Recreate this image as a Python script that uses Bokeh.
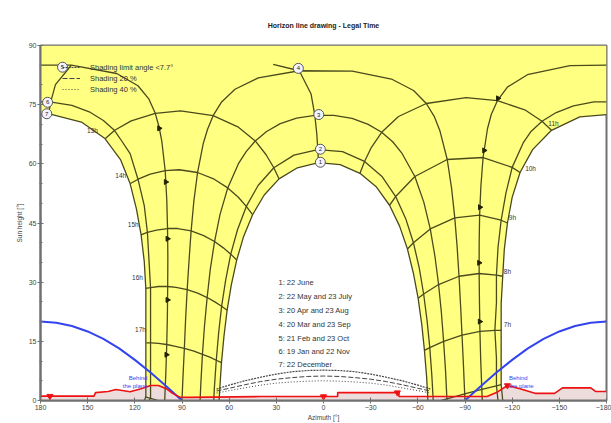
from bokeh.plotting import figure
from bokeh.models import Range1d, FixedTicker, Label, Legend, LegendItem
from bokeh.embed import file_html
from bokeh.resources import INLINE

nan = float("nan")

# ---------------- data (degrees: azimuth, sun height) ----------------
AZ_MAX = 180
H_MAX = 90
TITLE = "Horizon line drawing - Legal Time"
DATE_LABELS = ["1: 22 June", "2: 22 May and 23 July", "3: 20 Apr and 23 Aug",
               "4: 20 Mar and 23 Sep", "5: 21 Feb and 23 Oct", "6: 19 Jan and 22 Nov",
               "7: 22 December"]

# sun paths (one per date)
C1A = [-66.4, -65.6, -64.2, -62.5, -60.2, -57.2, -53.4, -48.4, -42, -33.7, -23.2, -10.6, 3.2, 16.6, 28.3, 37.7, 45.1, 50.8, 55.2, 58.6, 61.3, 63.3, 64.9, 66, 66.4]
C1H = [0, 5.9, 12.7, 19.3, 25.9, 32.2, 38.4, 44.2, 49.5, 54.1, 57.6, 59.8, 60.3, 59, 56.2, 52.1, 47.1, 41.6, 35.6, 29.4, 22.9, 16.3, 9.6, 2.8, 0]
C2A = [-69.8, -68.9, -67.6, -65.9, -63.7, -60.9, -57.2, -52.3, -45.9, -37.4, -26.1, -12.1, 3.6, 18.8, 31.6, 41.6, 49.1, 54.7, 59, 62.2, 64.8, 66.7, 68.2, 69.4, 69.8]
C2H = [0, 6.4, 13.4, 20.2, 27, 33.6, 40, 46.1, 51.7, 56.7, 60.6, 63.1, 63.6, 62.2, 59, 54.5, 49.2, 43.3, 37.1, 30.6, 23.9, 17.1, 10.2, 3.3, 0]
C3A = [-78.5, -78.5, -77.6, -76.4, -75, -73.2, -70.9, -67.9, -63.8, -58.1, -49.7, -44, -37, -28.4, -18.2, -6.6, 5.5, 17.1, 27.5, 36.2, 43.4, 49.2, 53.9, 60.9, 65.8, 69.3, 72, 74, 75.7, 77, 78, 78.5]
C3H = [0, 0.4, 7.7, 15, 22.2, 29.4, 36.5, 43.5, 50.3, 56.8, 62.8, 65.6, 68, 70, 71.5, 72.3, 72.3, 71.6, 70.2, 68.2, 65.8, 63.1, 60.2, 53.9, 47.2, 40.3, 33.3, 26.1, 18.9, 11.7, 4.4, 0]
C4A = [-90, -89.8, -89, -88.1, -87.2, -86.2, -85, -83.5, -81.5, -78.7, -74.1, -70.6, -65.4, -57.3, -43.2, -18.3, 15.4, 41.5, 56.3, 64.8, 70.2, 73.8, 76.5, 80.1, 82.5, 84.2, 85.5, 86.7, 87.7, 88.5, 89.4, 90]
C4H = [0, 1.7, 9.1, 16.6, 24, 31.5, 38.9, 46.3, 53.7, 61.1, 68.3, 71.9, 75.3, 78.6, 81.5, 83.5, 83.6, 81.8, 78.9, 75.7, 72.2, 68.7, 65.1, 57.8, 50.4, 43, 35.6, 28.1, 20.7, 13.2, 5.8, 0]
C5A = [-101, -100.7, -100, -99.5, -99.2, -99, -99, -99.3, -100.1, -101.5, -104.3, -106.7, -110.6, -117.1, -129.7, -156.8, -180, nan, 180, 160.4, 131.5, 118, 111, 107, 104.5, 102.8, 100.7, 99.7, 99.2, 99, 99.1, 99.3, 99.7, 100.3, 101]
C5H = [0, 2.8, 10.2, 17.5, 24.9, 32.2, 39.6, 47, 54.3, 61.6, 68.9, 72.5, 76, 79.5, 82.6, 84.9, 85, nan, 85, 85, 82.9, 79.8, 76.4, 72.8, 69.2, 65.6, 58.3, 51, 43.6, 36.3, 28.9, 21.5, 14.2, 6.8, 0]
C6A = [-111, -110, -110, -109, -110, -110, -111, -113, -116, -120, -127, -132, -139, -148, -159, -172, -180, nan, 180, 174, 160, 149, 140, 133, 128, 123, 118, 114, 112, 111, 110, 110, 110, 110, 110, 111]
C6H = [0, 3.7, 10.8, 17.8, 24.8, 31.8, 38.8, 45.7, 52.5, 59.1, 65.3, 68.2, 70.8, 73, 74.7, 75.7, 75.7, nan, 75.7, 75.7, 74.8, 73.2, 71, 68.5, 65.6, 62.6, 56.1, 49.4, 42.6, 35.6, 28.6, 21.6, 14.6, 7.6, 0.6, 0]
C7A = [-114, -113, -113, -113, -113, -114, -115, -117, -120, -125, -133, -145, -163, -180, nan, 180, 175, 154, 139, 129, 123, 119, 116, 114, 113, 113, 113, 113, 113, 114]
C7H = [0, 4, 10.9, 17.8, 24.6, 31.5, 38.3, 45, 51.5, 57.8, 63.6, 68.5, 71.9, 72.5, nan, 72.5, 72.7, 70.6, 66.4, 61, 55, 48.6, 42, 35.2, 28.4, 21.5, 14.6, 7.8, 0.9, 0]

# hour lines (legal time), from June to December
L6A = [-74.9, -78.5, -89.8, -100.7, -110, -113]
L6H = [0, 0.4, 1.7, 2.8, 3.7, 4]
L7A = [-64.2, -67.6, -76.4, -88.1, -99.5, -109, -113]
L7H = [12.7, 13.4, 15, 16.6, 17.5, 17.8, 17.8]
L8A = [-60.2, -63.7, -73.2, -86.2, -99, -110, -114]
L8H = [25.9, 27, 29.4, 31.5, 32.2, 31.8, 31.5]
L9A = [-53.4, -57.2, -67.9, -83.5, -99.3, -113, -117]
L9H = [38.4, 40, 43.5, 46.3, 47, 45.7, 45]
L10A = [-42, -45.9, -58.1, -78.7, -101.5, -120, -125]
L10H = [49.5, 51.7, 56.8, 61.1, 61.6, 59.1, 57.8]
L11A = [-23.2, -26.1, -30.5, -37, -47.7, -65.4, -90.7, -110.6, -128, -139, -145]
L11H = [57.6, 60.6, 64.2, 68, 72, 75.3, 76.8, 76, 73.7, 70.8, 68.5]
L12A = [3.2, 3.6, 4.3, 5.5, 7.9, 15.4, 32, nan, 160.4, 170.5, 173.5, 174.8]
L12H = [60.3, 63.6, 67.7, 72.3, 77.7, 83.6, 85.2, nan, 85, 80.1, 75.7, 72.7]
L13A = [28.3, 31.6, 36.5, 43.4, 54.1, 70.2, 90.9, 107, 122.3, 132.8, 138.7]
L13H = [56.2, 59, 62.3, 65.8, 69.3, 72.2, 73.4, 72.8, 70.9, 68.5, 66.4]
L14A = [45.1, 49.1, 54.3, 60.9, 69.5, 80.1, 91.8, 100.7, 110.2, 117.9, 122.8]
L14H = [47.1, 49.2, 51.6, 53.9, 56.1, 57.8, 58.5, 58.3, 57.4, 56.1, 55]
L15A = [55.2, 59, 63.7, 69.3, 76.2, 84.2, 92.7, 99.2, 106.2, 112.1, 116.1]
L15H = [35.6, 37.1, 38.7, 40.3, 41.8, 43, 43.6, 43.6, 43.2, 42.6, 42]
L16A = [61.3, 64.8, 69.1, 74, 80, 86.7, 93.7, 99.1, 104.9, 109.9, 113.3]
L16H = [22.9, 23.9, 25, 26.1, 27.2, 28.1, 28.7, 28.9, 28.9, 28.6, 28.4]
L17A = [64.9, 68.2, 72.3, 77, 82.4, 88.5, 94.9, 99.7, 105, 109.5, 112.7]
L17H = [9.6, 10.2, 11, 11.7, 12.5, 13.2, 13.8, 14.2, 14.5, 14.6, 14.6]
L18A = [105.4, 106.1, 110.5, 113.5]
L18H = [0, 0.1, 0.6, 0.9]

# curve number markers
CIRC_TXT = ["1", "2", "3", "4", "5", "6", "7"]
CIRC_AZ = [2, 2, 3, 16, 166, 175.5, 176]
CIRC_H = [60.4, 63.7, 72.5, 84.2, 84.5, 75.6, 72.7]

# direction arrows on path 5
MK_AZ = [104.5, 100.3, 99.2, 99.2, 99.9, -111, -102.2, -99.5, -99, -99.4]
MK_H = [69, 55.4, 41, 25.5, 11.6, 76.6, 63.4, 49, 34.9, 20]

# horizon line
HZ_AZ = [180, 146, 145, 137, 132, 123, 116, 110, 105, 100, 96, 91, 85, 40, 0, -9, -9, -48, -48, -90, -104, -110, -117, -125, -135, -147, -152, -170, -173, -180]
HZ_H = [1.1, 1.1, 2.0, 2.3, 2.8, 2.2, 3.0, 3.8, 3.8, 3.0, 1.8, 0.8, 0.8, 1.0, 1.0, 1.0, 2.0, 2.0, 1.0, 1.0, 1.0, 2.0, 3.8, 3.0, 1.8, 1.8, 3.2, 3.2, 2.3, 2.3]
HZM_AZ = [174, 0, -47, -117]
HZM_H = [1.1, 1.0, 2.0, 3.8]

# behind the plane
BL_AZ_W = [180, 170, 160, 150, 140, 130, 120, 110, 100, 90]
BL_AZ_E = [-180, -170, -160, -150, -140, -130, -120, -110, -100, -90]
BL_H = [20.0, 19.7, 18.9, 17.5, 15.6, 13.2, 10.3, 7.1, 3.6, 0.0]

# iso-shading lines
DM_AZ = [68, 60, 50, 40, 30, 20, 10, 0, -10, -20, -30, -40, -50, -60, -68]
DM1 = [2.9, 3.9, 5.0, 5.9, 6.7, 7.3, 7.6, 7.7, 7.6, 7.3, 6.7, 5.9, 5.0, 3.9, 2.9]
DM2 = [2.4, 3.1, 4.0, 4.8, 5.4, 5.8, 6.1, 6.2, 6.1, 5.8, 5.4, 4.8, 4.0, 3.1, 2.4]
DM3 = [1.9, 2.5, 3.2, 3.9, 4.4, 4.7, 4.9, 5.0, 4.9, 4.7, 4.4, 3.9, 3.2, 2.5, 1.9]
DM_LABELS = ["Shading limit angle <7.7°", "Shading 20 %", "Shading 40 %"]

X_TICKS = [180, 150, 120, 90, 60, 30, 0, -30, -60, -90, -120, -150, -180]
Y_TICKS = [0, 15, 30, 45, 60, 75, 90]

# ---------------- drawing ----------------
FONT = "Liberation Sans"
LINE = "#4a4a1c"

p = figure(width=611, height=423, x_range=Range1d(AZ_MAX, -AZ_MAX), y_range=Range1d(0, H_MAX),
           output_backend="svg", toolbar_location=None,
           min_border_left=40, min_border_right=5, min_border_top=45, min_border_bottom=22)
p.background_fill_color = "white"
p.border_fill_color = "white"

# sun domain (between the December and June paths)
k7 = [k for k, v in enumerate(C7A) if v != v][0]
poly_x = C7A[k7 + 1:] + C1A[::-1] + C7A[:k7] + [-AZ_MAX, AZ_MAX]
poly_y = C7H[k7 + 1:] + C1H[::-1] + C7H[:k7] + [H_MAX, H_MAX]
p.patch(poly_x, poly_y, fill_color="#ffff82", line_color=None)

# under-horizon area
p.varea(x=HZ_AZ, y1=[0] * len(HZ_AZ), y2=HZ_H, fill_color="#ecdcdc")

for a, h in [(C1A, C1H), (C2A, C2H), (C3A, C3H), (C4A, C4H), (C5A, C5H), (C6A, C6H), (C7A, C7H)]:
    p.line(a, h, line_color=LINE, line_width=1.3)
for a, h in [(L6A, L6H), (L7A, L7H), (L8A, L8H), (L9A, L9H), (L10A, L10H), (L11A, L11H), (L12A, L12H),
             (L13A, L13H), (L14A, L14H), (L15A, L15H), (L16A, L16H), (L17A, L17H), (L18A, L18H)]:
    p.line(a, h, line_color=LINE, line_width=1.3)

p.scatter(MK_AZ, MK_H, marker="triangle", size=5, angle=-1.5708, fill_color="#222200", line_color="#222200")

# iso shading lines
r1 = p.line(DM_AZ, DM1, line_color="#444444", line_width=1.2, line_dash="2 1")
r2 = p.line(DM_AZ, DM2, line_color="#444444", line_width=1, line_dash="5 2")
r3 = p.line(DM_AZ, DM3, line_color="#444444", line_width=1, line_dash="1 2")
legend = Legend(items=[LegendItem(label=DM_LABELS[0], renderers=[r1]),
                       LegendItem(label=DM_LABELS[1], renderers=[r2]),
                       LegendItem(label=DM_LABELS[2], renderers=[r3])],
                location=(22, 306), background_fill_alpha=0, border_line_alpha=0,
                label_text_font_size="7.5px", label_text_font=FONT, label_text_color="#333333",
                glyph_width=18, glyph_height=10, label_height=10, spacing=1, padding=0, margin=0,
                label_standoff=10)
p.add_layout(legend)

# horizon and behind-the-plane
p.line(BL_AZ_W, BL_H, line_color="#3344ee", line_width=2)
p.line(BL_AZ_E, BL_H, line_color="#3344ee", line_width=2)
p.line(HZ_AZ, HZ_H, line_color="#ee1111", line_width=1.6)
p.scatter(HZM_AZ, HZM_H, marker="inverted_triangle", size=6, fill_color="#ee1111", line_color="#ee1111")

# numbered circles
p.scatter(CIRC_AZ, CIRC_H, marker="circle", size=10, fill_color="#f4f4ff", line_color="#555555", line_width=1)
p.text(CIRC_AZ, CIRC_H, text=CIRC_TXT, text_font_size="6px", text_align="center",
       text_baseline="middle", text_color="#222222", text_font={"value": FONT})

# hour labels
for txt, x, y in [("13h", 147, 68.5), ("14h", 129, 57.1), ("15h", 121, 44.5), ("16h", 118.3, 31.1),
                  ("17h", 116.4, 17.9), ("11h", -146.3, 70.3), ("10h", -131.7, 58.9),
                  ("9h", -120.2, 46.3), ("8h", -117, 32.6), ("7h", -117, 19.2)]:
    p.add_layout(Label(x=x, y=y, text=txt, text_font_size="6.5px", text_font=FONT,
                       text_color="#333333", text_align="center", text_baseline="middle"))

# date list
for k, (txt, y) in enumerate(zip(DATE_LABELS, [29.8, 26.3, 22.8, 19.3, 15.8, 12.4, 9.1])):
    p.add_layout(Label(x=28.6, y=y, text=txt, text_font_size="7.5px", text_font=FONT,
                       text_color="#333333", text_align="left", text_baseline="middle"))

for x, al in [(112, "right"), (-118, "left")]:
    p.add_layout(Label(x=x, y=5.8, text="Behind", text_font_size="6px", text_font=FONT,
                       text_color="#3344ee", text_align=al, text_baseline="middle"))
    p.add_layout(Label(x=x, y=3.6, text="the plane", text_font_size="6px", text_font=FONT,
                       text_color="#3344ee", text_align=al, text_baseline="middle"))

# axes
p.xaxis.ticker = FixedTicker(ticks=X_TICKS)
p.yaxis.ticker = FixedTicker(ticks=Y_TICKS, minor_ticks=list(range(0, 91, 5)))
p.xgrid.visible = False
p.ygrid.visible = False
for ax in (p.xaxis, p.yaxis):
    ax.major_label_text_font_size = "7px"
    ax.major_label_text_font = FONT
    ax.major_label_text_color = "#444444"
    ax.axis_label_text_font_size = "6.5px"
    ax.axis_label_text_font = FONT
    ax.axis_label_text_font_style = "normal"
    ax.axis_label_text_color = "#444444"
    ax.axis_line_color = "#707070"
    ax.axis_line_width = 2
    ax.major_tick_line_color = "#707070"
    ax.minor_tick_line_color = "#707070"
    ax.major_tick_out = 3
    ax.major_tick_in = 3
    ax.minor_tick_out = 1
    ax.minor_tick_in = 2
    ax.major_label_standoff = 1
    ax.axis_label_standoff = 1
p.yaxis.axis_label_standoff = 3
p.xaxis.axis_label = "Azimuth [°]"
p.yaxis.axis_label = "Sun height [°]"
p.outline_line_color = "#707070"
p.outline_line_width = 2

p.title.text = TITLE
p.title.align = "center"
p.title.text_font_size = "7px"
p.title.text_font = FONT
p.title.text_font_style = "bold"
p.title.text_color = "#222222"
p.title.standoff = 34

open("out.html", "w").write(file_html(p, INLINE))
